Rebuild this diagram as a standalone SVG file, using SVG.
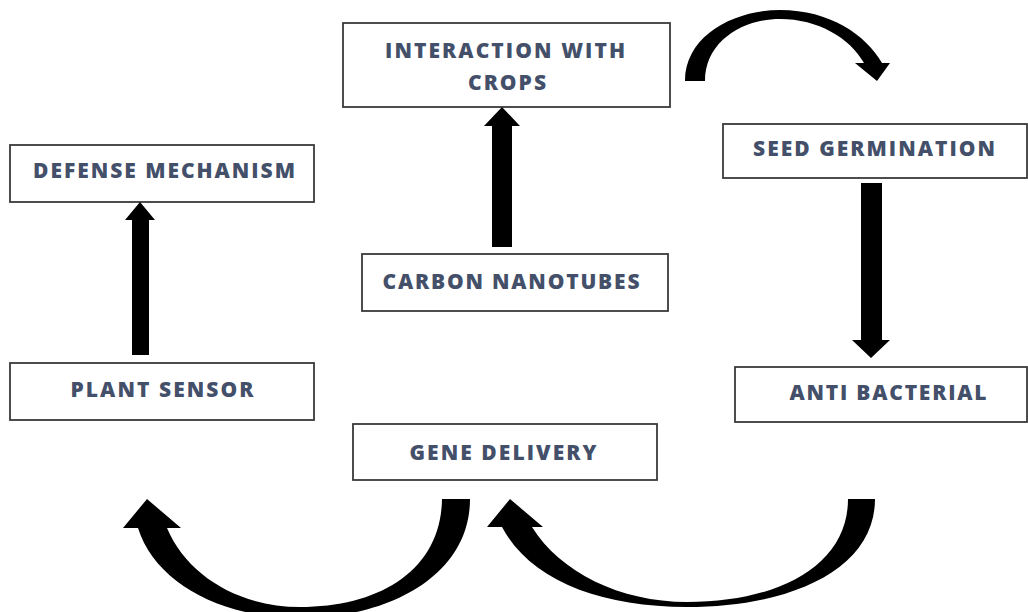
<svg xmlns="http://www.w3.org/2000/svg" width="1028" height="612" viewBox="0 0 1028 612">
<style>
.box{fill:#fff;stroke:#3a3a3a;stroke-width:1.8}
.lbl{font-family:"Open Sans","Liberation Sans",sans-serif;font-weight:800;font-size:21px;fill:#44506a;text-anchor:middle}
.arr{fill:#000}
</style>
<rect width="1028" height="612" fill="#fff"/>
<g id="interaction">
<rect class="box" x="343" y="23" width="327" height="84"/>
<text class="lbl" x="505" y="58" textLength="240" lengthAdjust="spacing">INTERACTION WITH</text>
<text class="lbl" x="507" y="90" textLength="78" lengthAdjust="spacing">CROPS</text>
</g>
<g id="defense">
<rect class="box" x="10" y="145" width="304" height="57"/>
<text class="lbl" x="164" y="178" textLength="262" lengthAdjust="spacing">DEFENSE MECHANISM</text>
</g>
<g id="seed">
<rect class="box" x="723" y="124" width="304" height="54"/>
<text class="lbl" x="874" y="156" textLength="242" lengthAdjust="spacing">SEED GERMINATION</text>
</g>
<g id="carbon">
<rect class="box" x="362" y="254" width="306" height="57"/>
<text class="lbl" x="511" y="289" textLength="257" lengthAdjust="spacing">CARBON NANOTUBES</text>
</g>
<g id="plant">
<rect class="box" x="10" y="363" width="304" height="57"/>
<text class="lbl" x="162" y="397" textLength="183" lengthAdjust="spacing">PLANT SENSOR</text>
</g>
<g id="anti">
<rect class="box" x="735" y="367" width="292" height="55"/>
<text class="lbl" x="888" y="400" textLength="197" lengthAdjust="spacing">ANTI BACTERIAL</text>
</g>
<g id="gene">
<rect class="box" x="353" y="424" width="304" height="56"/>
<text class="lbl" x="503" y="460" textLength="187" lengthAdjust="spacing">GENE DELIVERY</text>
</g>
<g id="connectors">
<polygon class="arr" points="492,247 492,126 484,126 502,107 520,126 512,126 512,247"/>
<polygon class="arr" points="132,355 132,220 125,220 140,202 155,220 149,220 149,355"/>
<polygon class="arr" points="861,183 882,183 882,340 890,340 871,358 852,340 861,340"/>
<path class="arr" d="M685,81 C685,35 735,10 780,10 C830,10 866,35 882,63 L890,63 L877,81 L855,63 L864,63 C850,38 818,19 780,19 C742,19 705,42 705,81 Z"/>
<path class="arr" d="M470,499 C470,575 390,618 300,618 C220,618 155,582 138,528 L123,528 L147,499 L181,528 L167,528 C187,576 240,607 300,607 C380,607 441,570 442,499 Z"/>
<path class="arr" d="M875,499 C875,570 790,607 687,607 C600,607 530,580 502,527 L487,527 L510,499 L543,527 L532,527 C560,572 620,602 687,602 C780,602 848,565 848,499 Z"/>
</g>
</svg>
